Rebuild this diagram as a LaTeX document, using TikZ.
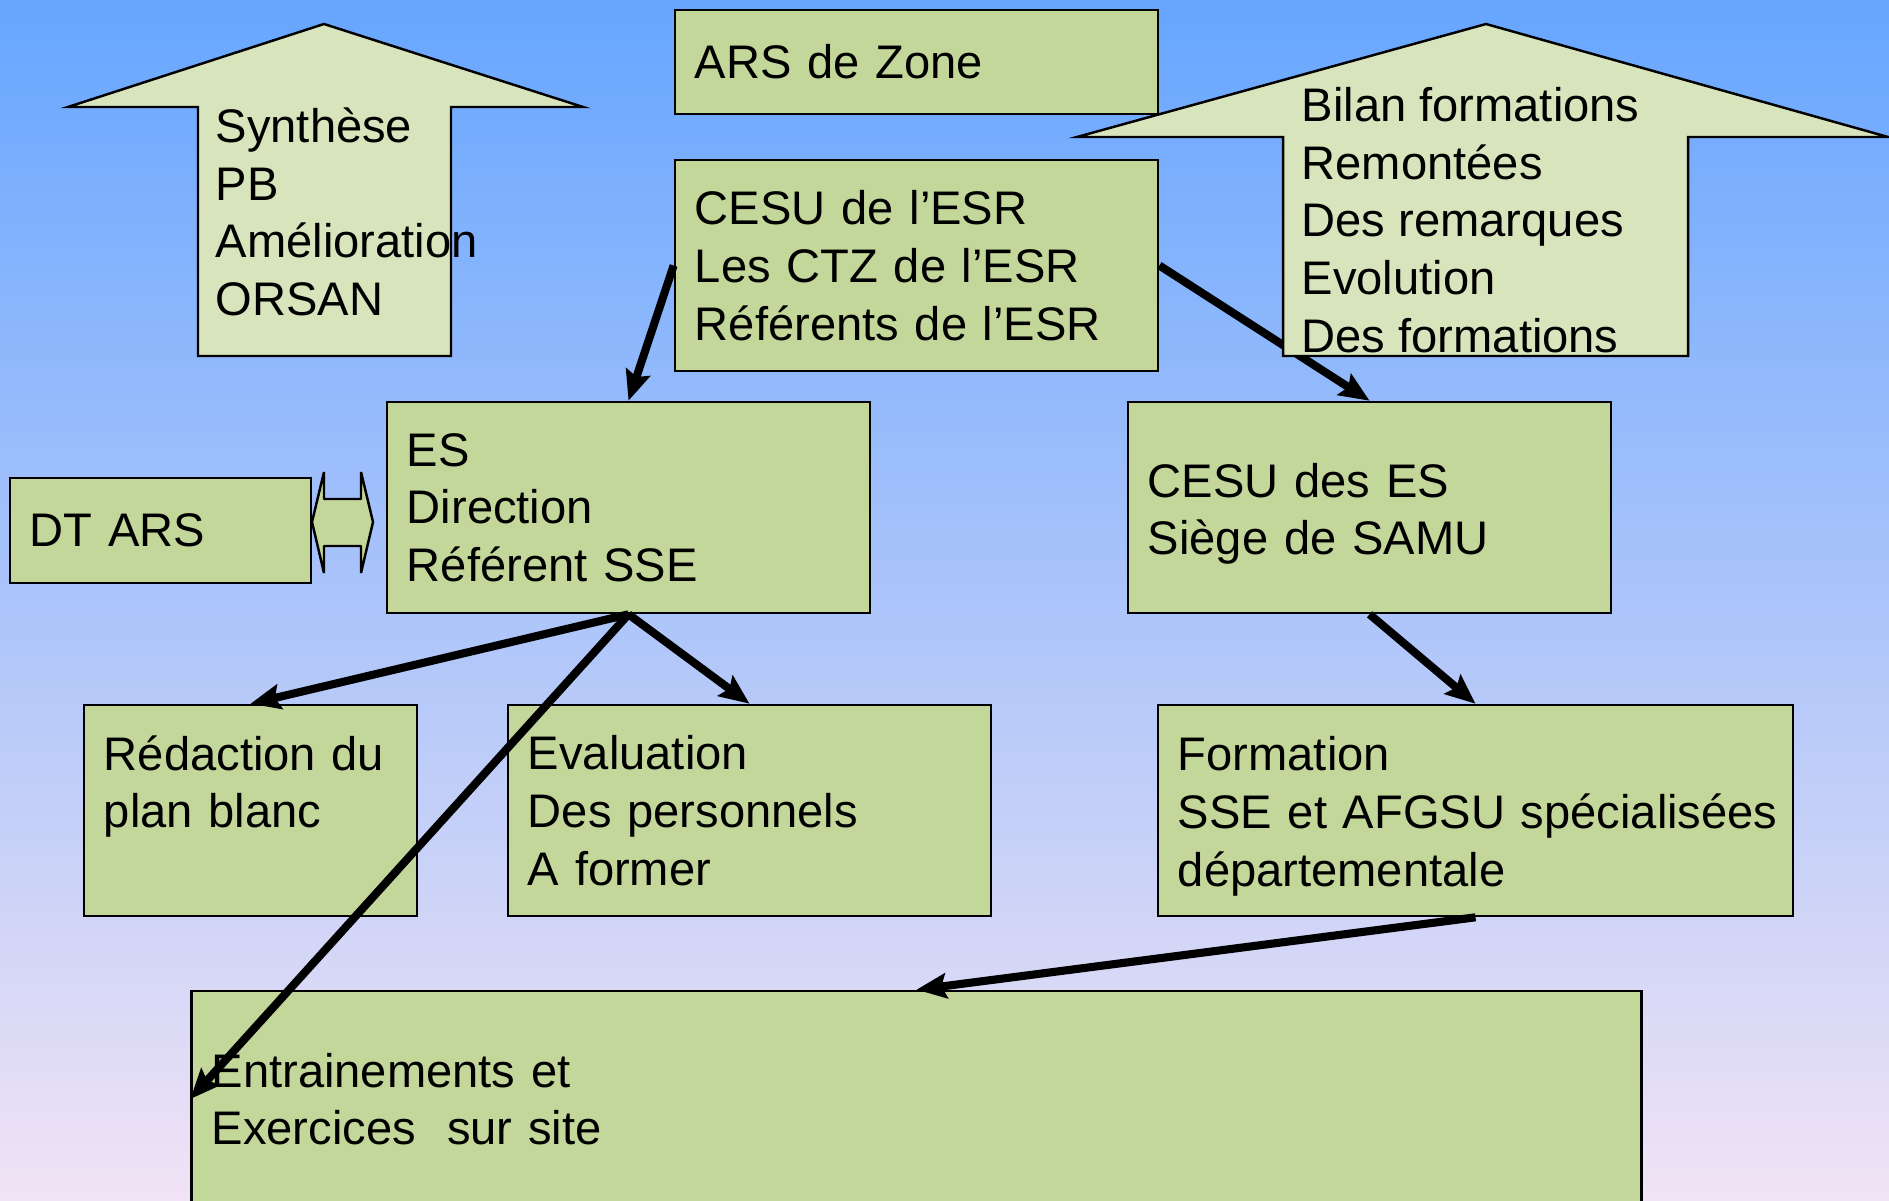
\documentclass[tikz,border=0pt]{standalone}
\usepackage{fontspec}
\setmainfont{Liberation Sans}
\usetikzlibrary{arrows.meta}

\definecolor{bgtop}{RGB}{102,166,255}
\definecolor{bgmid}{RGB}{162,202,246}
\definecolor{bgbot}{RGB}{241,227,245}
\definecolor{boxgreen}{RGB}{196,215,155}
\definecolor{palegreen}{RGB}{216,228,188}

\tikzset{
  box/.style={draw, line width=0.7pt, fill=boxgreen, inner xsep=0.2cm, inner ysep=0pt,
    align=left, font=\fontsize{13.4}{16.4}\selectfont},
  arrowtext/.style={inner sep=0pt, align=left, font=\fontsize{13.4}{16.4}\selectfont},
  link/.style={line width=2.3pt, -{Stealth[length=0.3cm,width=0.25cm,inset=0.05cm]}},
  bigarrow/.style={draw, line width=0.7pt, fill=palegreen},
}

\begin{document}
\begin{tikzpicture}[x=0.01cm, y=-0.01cm]
    \useasboundingbox (0,0) rectangle (1889,1200);
    \shade[top color=bgtop, middle color=bgmid, bottom color=bgbot] (0,0) rectangle (1889,1200);

    \node[box, text width=4.43cm, minimum height=1.04cm] (arszone) at (916.5,62) {ARS de Zone};
    \node[box, text width=4.43cm, minimum height=2.11cm] (cesuesr) at (916.5,265.5) {CESU de l’ESR\\Les CTZ de l’ESR\\Référents de l’ESR};
    \node[box, text width=4.43cm, minimum height=2.11cm] (es) at (628.5,507.5) {ES\\Direction\\Référent SSE};
    \node[box, text width=4.43cm, minimum height=2.11cm] (cesues) at (1369.5,507.5) {\rule{0pt}{0.47cm}CESU des ES\\Siège de SAMU};
    \node[box, text width=2.61cm, minimum height=1.05cm] (dtars) at (160.5,530.5) {DT ARS};
    \node[box, text width=2.93cm, minimum height=2.11cm] (redaction) at (250.5,810.5) {Rédaction du\\plan blanc\\\mbox{}};
    \node[box, text width=4.43cm, minimum height=2.11cm] (evaluation) at (749.5,810.5) {Evaluation\\Des personnels\\A former};
    \node[box, text width=5.95cm, minimum height=2.11cm] (formation) at (1475.5,810.5) {\rule{0pt}{0.46cm}Formation\\\mbox{SSE et AFGSU spécialisées}\\départementale};
    \node[box, text width=14.09cm, minimum height=2.16cm] (entrain) at (916.5,1099) {Entrainements et\\Exercices~ sur site};

    \draw[link] (cesuesr.west) -- (es.north);
    \draw[link] (cesuesr.east) -- (cesues.north);
    \draw[link] (es.south) -- (redaction.north);
    \draw[link] (es.south) -- (evaluation.north);
    \draw[link] (es.south) -- (entrain.west);
    \draw[link] (cesues.south) -- (formation.north);
    \draw[link] (formation.south) -- (entrain.north);

    % double arrow between DT ARS and ES
    \draw[line width=0.7pt, line join=bevel, fill=boxgreen] (312,522) -- (324,472) -- (324,499) -- (361,499) -- (361,472)
        -- (373,522) -- (361,573) -- (361,546) -- (324,546) -- (324,573) -- cycle;

    % up arrows
    \draw[bigarrow] (198,356) -- (198,107) -- (68,107) -- (324,24) -- (583,107) -- (451,107) -- (451,356) -- cycle;
    \node[arrowtext, anchor=west] (synthese) at (215,212) {Synthèse\\PB\\Amélioration\\ORSAN};
    \draw[bigarrow] (1283,356) -- (1283,137) -- (1077,137) -- (1486,24) -- (1888,137) -- (1688,137) -- (1688,356) -- cycle;
    \node[arrowtext, anchor=west] (bilan) at (1301,220) {Bilan formations\\Remontées\\Des remarques\\Evolution\\Des formations};
\end{tikzpicture}
\end{document}
